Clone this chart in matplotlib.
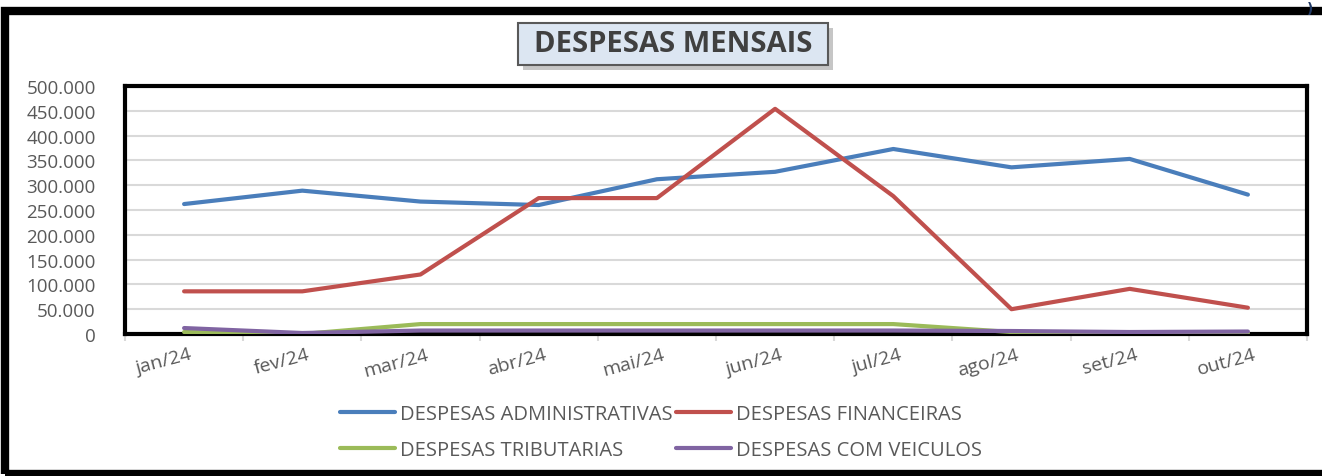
import matplotlib
matplotlib.use("Agg")
import matplotlib.pyplot as plt
from matplotlib.patches import Rectangle
from matplotlib.ticker import FuncFormatter, FixedLocator
from matplotlib.lines import Line2D
import matplotlib.transforms as mtransforms

months = ["jan/24", "fev/24", "mar/24", "abr/24", "mai/24", "jun/24",
          "jul/24", "ago/24", "set/24", "out/24"]
administrativas = [262000, 289000, 267000, 260000, 312000, 327000, 373000, 336000, 353000, 281000]
financeiras = [86000, 86000, 120000, 274000, 274000, 454000, 278000, 50000, 91000, 53000]
tributarias = [4000, 0, 20000, 20000, 20000, 20000, 20000, 4000, 2000, 2000]
veiculos = [12000, 2000, 7000, 7000, 7000, 7000, 7000, 6000, 4000, 5000]

series = [
    ("DESPESAS ADMINISTRATIVAS", administrativas, "#4a7ebb"),
    ("DESPESAS FINANCEIRAS", financeiras, "#c0504d"),
    ("DESPESAS TRIBUTARIAS", tributarias, "#9bbb59"),
    ("DESPESAS COM VEICULOS", veiculos, "#8064a2"),
]

W, H = 1322, 477
fig = plt.figure(figsize=(W / 100, H / 100), dpi=100)
fig.patch.set_facecolor("white")

FONT = ["Open Sans", "DejaVu Sans"]
GRAY = "#595959"

# outer frame
fig.add_artist(Rectangle((5 / W, 1 - 475 / H), 1.2, (475 - 12) / H,
                         transform=fig.transFigure, fill=False,
                         edgecolor="black", linewidth=6))

ax = fig.add_axes([125 / W, 1 - 335 / H, (1307 - 125) / W, (335 - 87) / H])
x = list(range(len(months)))
for name, vals, col in series:
    ax.plot(x, vals, color=col, linewidth=3, solid_capstyle="round", zorder=3)

ax.set_xlim(-0.5, len(months) - 0.5)
ax.set_ylim(0, 500000)
ax.yaxis.set_major_locator(FixedLocator(range(0, 500001, 50000)))
ax.yaxis.set_major_formatter(FuncFormatter(lambda v, p: f"{int(v):,}".replace(",", ".")))
ax.grid(axis="y", color="#d9d9d9", linewidth=1.5, zorder=0)
ax.set_axisbelow(True)
for s in ax.spines.values():
    s.set_color("black")
    s.set_linewidth(3)

ax.tick_params(axis="y", length=0, pad=21, labelsize=13.5, labelcolor=GRAY)
for lab in ax.get_yticklabels():
    lab.set_family(FONT)

ax.set_xticks(x)
ax.set_xticklabels(months, rotation=15, fontsize=14, color=GRAY, family=FONT,
                   ha="right", va="top", rotation_mode="anchor")
ax.tick_params(axis="x", length=0, pad=8)
offset = mtransforms.ScaledTranslation(5 / 100, 0, fig.dpi_scale_trans)
for lab in ax.get_xticklabels():
    lab.set_transform(lab.get_transform() + offset)
ax.set_xticks([i - 0.5 for i in range(len(months) + 1)], minor=True)
ax.tick_params(axis="x", which="minor", length=5, color="#d9d9d9", width=1.5)

# legend (row order: admin, financeiras / tributarias, veiculos)
order = [0, 2, 1, 3]
handles = [Line2D([0], [0], color=series[i][2], linewidth=3, solid_capstyle="round") for i in order]
labels = [series[i][0] for i in order]
leg = fig.legend(handles, labels, ncol=2, loc="center",
                 bbox_to_anchor=(661 / W, 1 - 433 / H), frameon=False,
                 prop={"family": FONT, "size": 14.5}, handlelength=2.7,
                 handletextpad=0.25, columnspacing=0.2, labelspacing=0.8)
for t in leg.get_texts():
    t.set_color(GRAY)

# title box with shadow
bx0, bx1, by0, by1 = 518, 828, 24, 66
fig.add_artist(Rectangle(((bx0 + 5) / W, 1 - (by1 + 5) / H), (bx1 - bx0) / W, (by1 - by0) / H,
                         transform=fig.transFigure, facecolor="#a0a0a0", edgecolor="none",
                         alpha=0.6))
fig.add_artist(Rectangle((bx0 / W, 1 - by1 / H), (bx1 - bx0) / W, (by1 - by0) / H,
                         transform=fig.transFigure, facecolor="#dce6f2",
                         edgecolor="#595959", linewidth=1.5))
fig.text((bx0 + bx1) / 2 / W, 1 - (by0 + by1) / 2 / H, "DESPESAS MENSAIS",
         ha="center", va="center", fontsize=21, fontweight="bold",
         color="#404040", family=FONT)

# small stray mark at top right
fig.text(1310 / W, 1 - 9 / H, ")", ha="center", va="center", fontsize=10,
         color="#1f3864", fontweight="bold")

fig.savefig("out.png", dpi=100)
